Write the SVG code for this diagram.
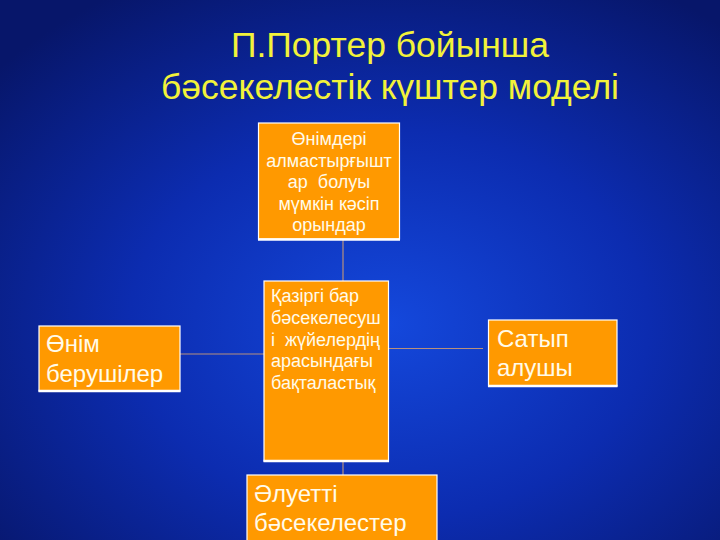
<svg xmlns="http://www.w3.org/2000/svg" width="720" height="540" viewBox="0 0 720 540">
<defs>
<radialGradient id="bg" cx="0.54" cy="0.6" r="0.72">
<stop offset="0" stop-color="#1448dc"/>
<stop offset="0.5" stop-color="#0c2cb0"/>
<stop offset="1" stop-color="#07166a"/>
</radialGradient>
<style>
.box{fill:#ff9900;stroke:#ffffff;stroke-width:1.2}
.edge{stroke:#ffffff;stroke-width:2.5}
.t{font-family:"Liberation Sans",Arial,sans-serif;fill:#fffbea}
.title{font-family:"Liberation Sans",Arial,sans-serif;fill:#f2f23a;font-size:35.5px;text-anchor:middle}
.con{stroke:#b8907c;stroke-width:1.2;fill:none}
</style>
</defs>
<rect width="720" height="540" fill="url(#bg)"/>
<g id="title">
<text class="title" x="390" y="57">П.Портер бойынша</text>
<text class="title" x="390" y="99">бәсекелестік күштер моделі</text>
</g>
<g id="connectors">
<line class="con" x1="343" y1="240" x2="343" y2="281"/>
<line class="con" x1="180" y1="354" x2="264" y2="354"/>
<line class="con" x1="388" y1="348.5" x2="483" y2="348.5"/>
<line class="con" x1="343" y1="461" x2="343" y2="475"/>
</g>
<g id="substitutes">
<rect class="box" x="258.5" y="123" width="141" height="116"/>
<line class="edge" x1="258" y1="239.5" x2="400" y2="239.5"/>
<g class="t" font-size="18" text-anchor="middle">
<text x="329" y="145">Өнімдері</text>
<text x="329" y="167">алмастырғышт</text>
<text x="329" y="188" xml:space="preserve">ар  болуы</text>
<text x="329" y="210">мүмкін кәсіп</text>
<text x="329" y="231">орындар</text>
</g>
</g>
<g id="rivalry">
<rect class="box" x="264" y="281" width="124.5" height="180"/>
<line class="edge" x1="263.5" y1="461" x2="389" y2="461"/>
<g class="t" font-size="18">
<text x="271" y="302">Қазіргі бар</text>
<text x="271" y="324">бәсекелесуш</text>
<text x="271" y="346" xml:space="preserve">і  жүйелердің</text>
<text x="271" y="367">арасындағы</text>
<text x="271" y="389">бақталастық</text>
</g>
</g>
<g id="suppliers">
<rect class="box" x="39" y="326" width="141" height="65"/>
<line class="edge" x1="38.5" y1="391" x2="180.5" y2="391"/>
<g class="t" font-size="24">
<text x="46" y="352">Өнім</text>
<text x="46" y="382">берушілер</text>
</g>
</g>
<g id="buyers">
<rect class="box" x="488.5" y="320" width="128.5" height="66"/>
<line class="edge" x1="488" y1="386" x2="617.5" y2="386"/>
<g class="t" font-size="24">
<text x="497" y="347">Сатып</text>
<text x="497" y="376">алушы</text>
</g>
</g>
<g id="entrants">
<rect class="box" x="247" y="475" width="190" height="70"/>
<g class="t" font-size="24">
<text x="254" y="502">Әлуетті</text>
<text x="254" y="531">бәсекелестер</text>
</g>
</g>
</svg>
